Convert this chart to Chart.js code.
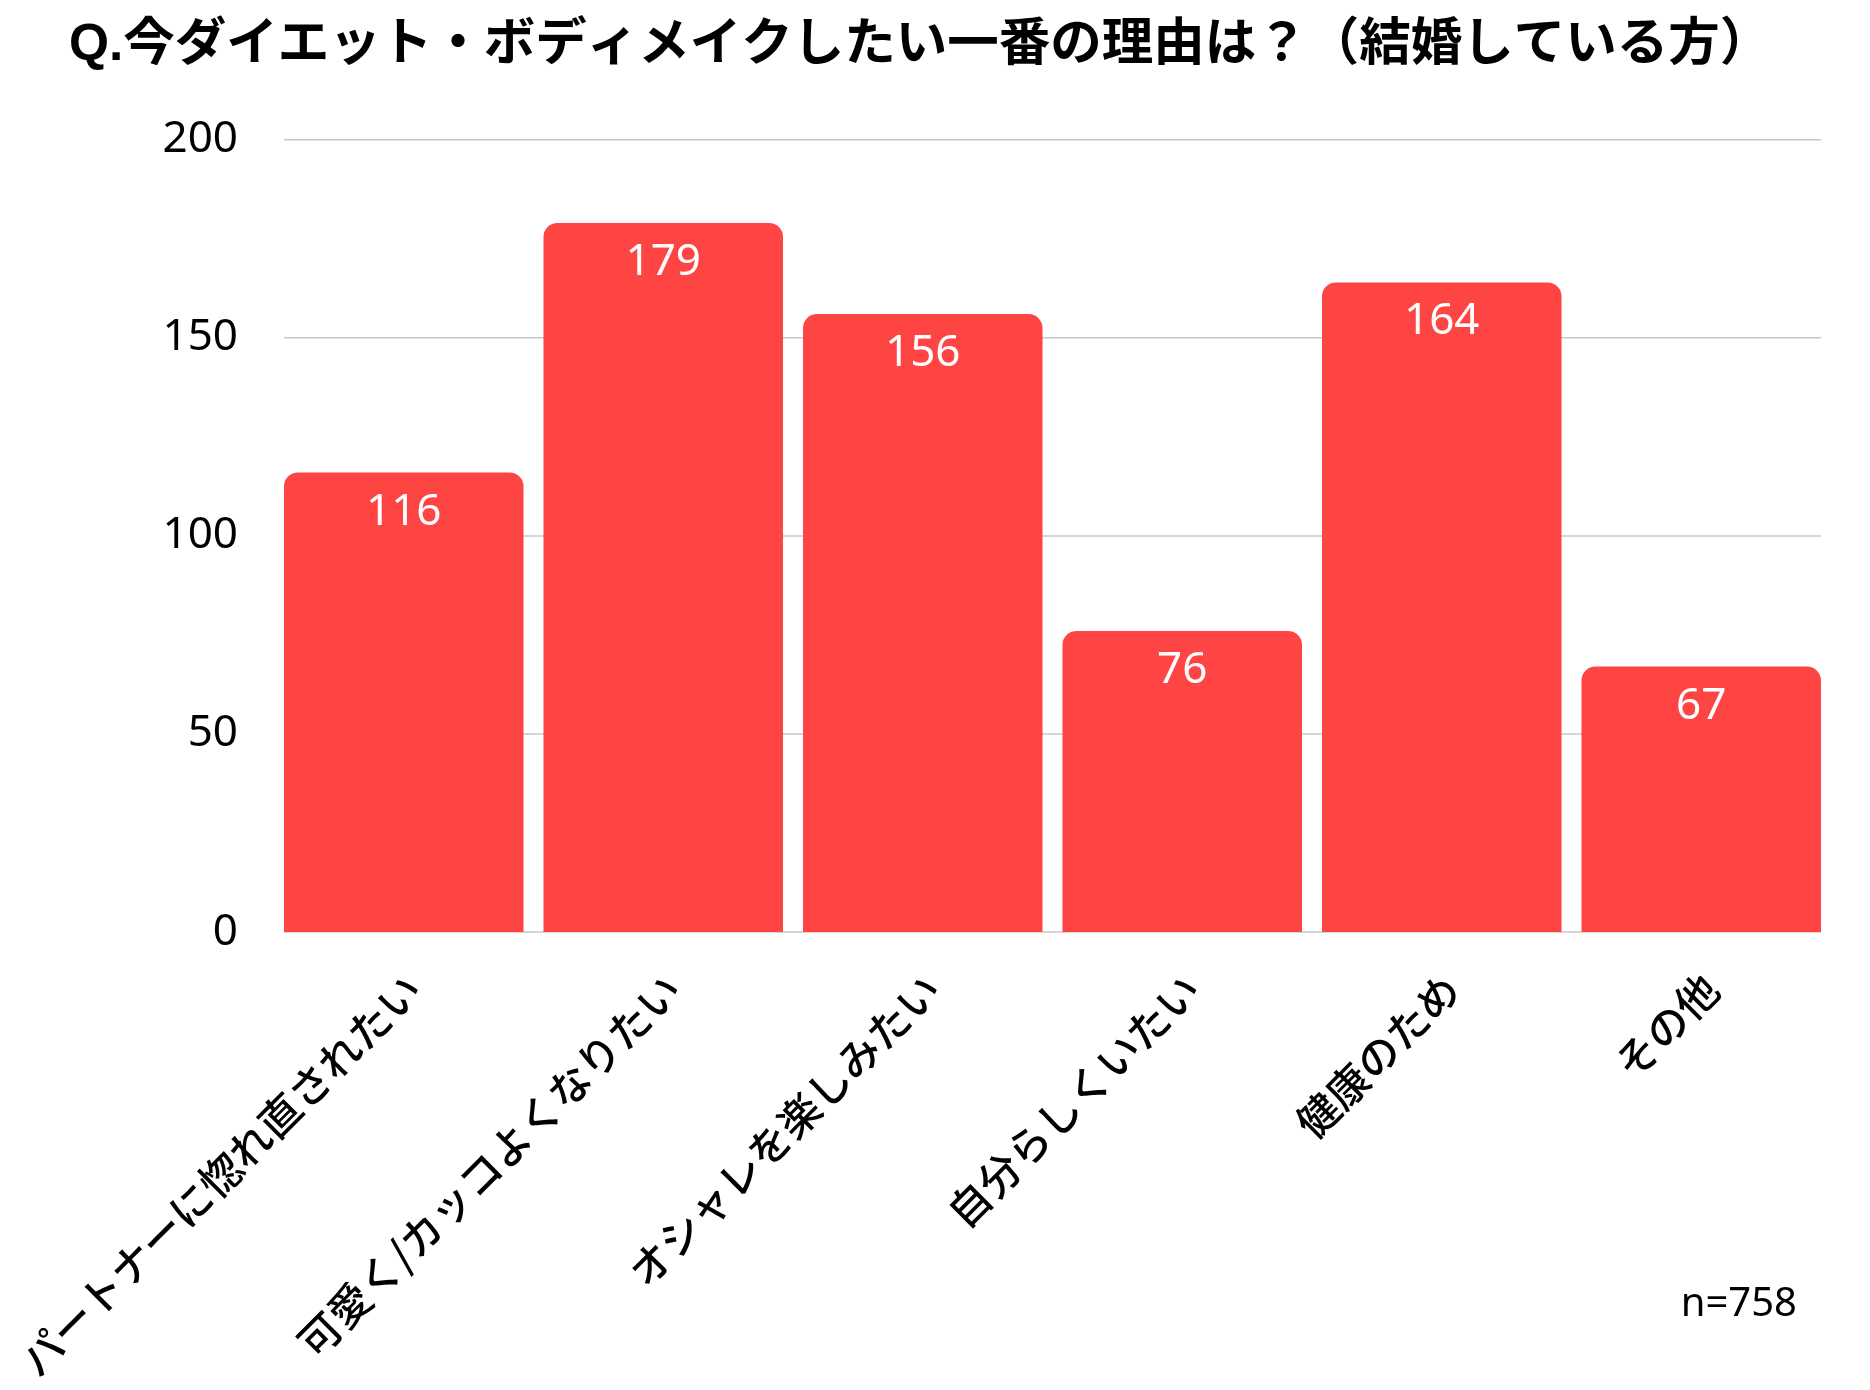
<!DOCTYPE html>
<html><head><meta charset="utf-8">
<script src="https://cdn.jsdelivr.net/npm/chart.js@4"></script>
<style>html,body{margin:0;padding:0;background:#fff;}#wrap{width:1870px;height:1390px;}</style>
</head><body><div id="wrap"><canvas id="c" width="1870" height="1390"></canvas></div>
<script>
const titleText = 'Q.今ダイエット・ボディメイクしたい一番の理由は？（結婚している方）';
const categories = ['パートナーに惚れ直されたい','可愛く/カッコよくなりたい','オシャレを楽しみたい','自分らしくいたい','健康のため','その他'];
const values = [116, 179, 156, 76, 164, 67];
const yTicks = [0, 50, 100, 150, 200];
const sampleNote = 'n=758';

const BAR_COLOR = 'rgb(255,68,68)';
const GRID_COLOR = '#c8c8c8';
const NUM_FONT = "'Noto Sans', 'Noto Sans CJK JP', sans-serif";

const gridPlugin = {
  id: 'customGrid',
  beforeDatasetsDraw(chart) {
    const ctx = chart.ctx, y = chart.scales.y;
    const bars = chart.getDatasetMeta(0).data;
    const x0 = bars[0].x - bars[0].width / 2;
    const x1 = bars[bars.length - 1].x + bars[bars.length - 1].width / 2;
    ctx.save();
    ctx.strokeStyle = GRID_COLOR;
    ctx.lineWidth = 1.5;
    yTicks.forEach(v => {
      const py = y.getPixelForValue(v);
      ctx.beginPath(); ctx.moveTo(x0, py); ctx.lineTo(x1, py); ctx.stroke();
    });
    ctx.restore();
  }
};

const labelPlugin = {
  id: 'valueLabels',
  afterDatasetsDraw(chart) {
    const ctx = chart.ctx;
    const bars = chart.getDatasetMeta(0).data;
    ctx.save();
    ctx.fillStyle = '#ffffff';
    ctx.font = '44px ' + NUM_FONT;
    ctx.textAlign = 'center';
    ctx.textBaseline = 'alphabetic';
    bars.forEach((b, i) => ctx.fillText(String(values[i]), b.x, b.y + 52));
    ctx.fillStyle = '#000000';
    ctx.font = '40px ' + NUM_FONT;
    ctx.textAlign = 'right';
    ctx.fillText(sampleNote, 1797, 1316);
    ctx.restore();
  }
};

new Chart(document.getElementById('c'), {
  type: 'bar',
  data: {
    labels: categories,
    datasets: [{
      data: values,
      backgroundColor: BAR_COLOR,
      borderWidth: 0,
      borderRadius: {topLeft: 14, topRight: 14, bottomLeft: 0, bottomRight: 0},
      borderSkipped: 'bottom',
      categoryPercentage: 1,
      barPercentage: 0.923
    }]
  },
  options: {
    responsive: false,
    animation: false,
    devicePixelRatio: 1,
    layout: {padding: {left: 69, right: 39, top: 0, bottom: 0}},
    plugins: {
      legend: {display: false},
      tooltip: {enabled: false},
      title: {
        display: true,
        text: titleText,
        align: 'start',
        color: '#000',
        font: {family: "'Liberation Sans', 'Noto Sans CJK JP', sans-serif", size: 51.5, weight: 'bold'},
        padding: {top: 15, bottom: 63}
      }
    },
    scales: {
      x: {
        grid: {display: false, drawTicks: false},
        border: {display: false},
        ticks: {
          color: '#000',
          font: {family: "'Noto Sans CJK JP', sans-serif", size: 42, weight: 500},
          padding: 32,
          labelOffset: 10,
          minRotation: 45, maxRotation: 45,
          autoSkip: false
        },
        afterFit(scale) { scale.height = 458; scale.paddingLeft = 0; scale.paddingRight = 0; }
      },
      y: {
        min: 0, max: 200,
        grid: {display: false, drawTicks: false},
        border: {display: false},
        ticks: {
          stepSize: 50,
          color: '#000',
          font: {family: NUM_FONT, size: 44},
          padding: 36
        },
        afterFit(scale) { scale.width = 205; scale.paddingTop = 0; scale.paddingBottom = 0; }
      }
    }
  },
  plugins: [gridPlugin, labelPlugin]
});
</script></body></html>
